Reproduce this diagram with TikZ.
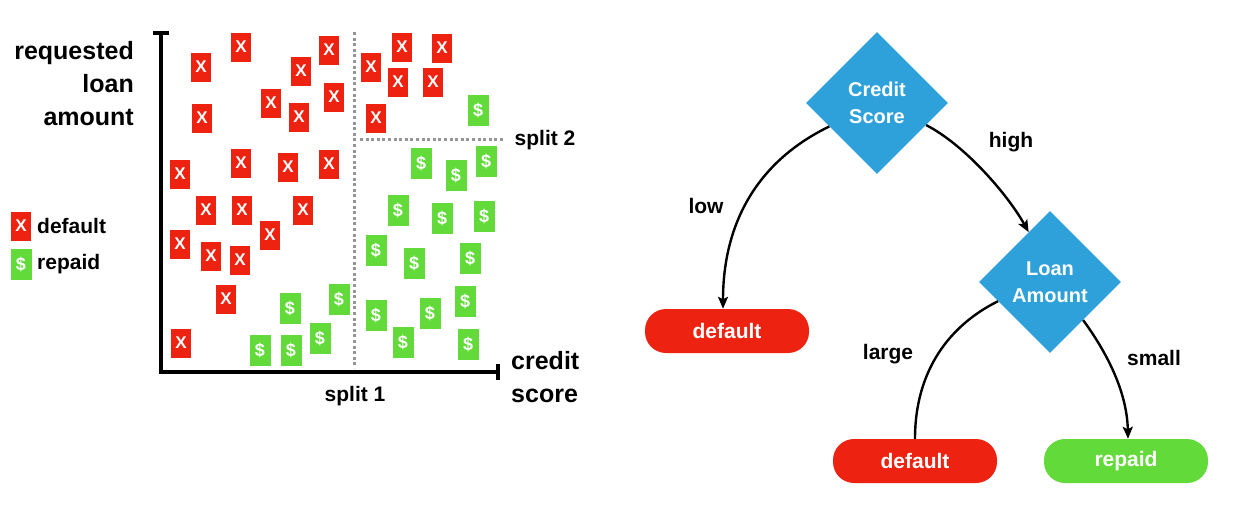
\documentclass[tikz,border=0pt]{standalone}
\usepackage{fontspec}
\setmainfont{Liberation Sans}
\usetikzlibrary{shapes.geometric,arrows.meta,calc}
\definecolor{redc}{RGB}{238,34,16}
\definecolor{greenc}{RGB}{98,218,58}
\definecolor{bluec}{RGB}{46,160,218}
\definecolor{grayc}{RGB}{150,150,150}
\begin{document}
\begin{tikzpicture}[x=1pt,y=-1pt,
  redm/.style={fill=redc, minimum width=20pt, minimum height=29pt, inner sep=0pt, text=white, font=\fontsize{17}{17}\selectfont\bfseries},
  greenm/.style={fill=greenc, minimum width=21pt, minimum height=31pt, inner sep=0pt, text=white, font=\fontsize{18}{18}\selectfont\bfseries},
  axis/.style={line width=4pt, black},
  tick/.style={line width=3.5pt, black},
  dotline/.style={grayc, line width=3pt, dash pattern=on 3pt off 2.6pt},
  axlab/.style={font=\fontsize{25}{33}\selectfont\bfseries, inner sep=0pt},
  lab/.style={font=\fontsize{21}{26}\selectfont\bfseries, inner sep=0pt},
  dec/.style={shape=diamond, fill=bluec, minimum width=142pt, minimum height=142pt, inner sep=0pt, text=white, align=center, font=\fontsize{20}{27}\selectfont\bfseries},
  leafr/.style={fill=redc, rounded corners=21pt, minimum width=164pt, minimum height=44pt, inner sep=0pt, text=white, font=\fontsize{21}{26}\selectfont\bfseries},
  leafg/.style={leafr, fill=greenc},
  edge/.style={line width=2.4pt, black},
  tip/.style={-{Stealth[length=12pt,width=10pt,inset=2.5pt]}}
]
\useasboundingbox (0,0) rectangle (1250,509);

% axes
\coordinate (ytop) at (161,33);
\coordinate (orig) at (161,372);
\coordinate (xend) at (498,372);
\draw[axis] (ytop) -- (orig) -- (xend);
\draw[tick] ([xshift=-8pt]ytop) -- ([xshift=8pt]ytop);
\draw[tick] ([yshift=8pt]xend) -- ([yshift=-8pt]xend);

% splits
\coordinate (s1t) at (354,32);
\coordinate (s1b) at (354,368);
\coordinate (s2l) at (360,139);
\coordinate (s2r) at (503,139);
\draw[dotline] (s1t) -- (s1b);
\draw[dotline] (s2l) -- (s2r);

% markers
\foreach \x/\y [count=\i] in {201/67,241/47,329/50,301/71,334/97,271/103,299/117,202/118,180/174,241/163,288/167,329/164,206/210,242/210,303/210,270/235,180/244,211/256,240/260,226/299,181/343,371/67,402/47,442/48,398/82,433/82,376/118}
  \node[redm] (r\i) at (\x,\y) {X};
\foreach \x/\y [count=\i] in {290/308,339/299,260/350,291/350,320/338,478/110,421/163,456/175,486/161,398/210,442/218,484/216,376/250,414/263,470/258,376/315,430/313,465/301,403/342,468/344}
  \node[greenm] (g\i) at (\x,\y) {\$};

% labels
\node[axlab, anchor=east, align=right] (ylab) at (134,84) {requested\\loan\\amount};
\node[axlab, anchor=west, align=left] (xlab) at (511,377) {credit\\score};
\node[lab] (s1) at (355,396) {split 1};
\node[lab] (s2) at (545,140) {split 2};

% legend
\node[redm] (lr) at (21,226) {X};
\node[greenm] (lg) at (21,264) {\$};
\node[lab, anchor=west] (lgd) at (37,226) {default};
\node[lab, anchor=west] (lgr) at (37,264) {repaid};

% tree
\node[dec] (cs) at (877,103) {Credit\\Score};
\node[dec] (la) at (1050,282) {Loan\\Amount};
\node[leafr] (d1) at (727,331) {default};
\node[leafr] (d2) at (915,461) {default};
\node[leafg] (rp) at (1126,461) {repaid};

\draw[edge,tip] ($(cs.west)!0.33!(cs.south)$) .. controls (760,160) and (723,220) .. ([xshift=-4pt]d1.north);
\draw[edge,tip] ($(cs.east)!0.31!(cs.south)$) .. controls (965,145) and (1008,195) .. ($(la.west)!0.7!(la.north)$);
\draw[edge] ($(la.west)!0.27!(la.south)$) .. controls (950,325) and (915,370) .. (d2.north);
\draw[edge,tip] ($(la.east)!0.535!(la.south)$) .. controls (1105,350) and (1127,390) .. ([xshift=2pt]rp.north);

\node[lab] (llow) at (706,206) {low};
\node[lab] (lhigh) at (1011,142) {high};
\node[lab] (llarge) at (888,354) {large};
\node[lab] (lsmall) at (1154,358) {small};
\end{tikzpicture}
\end{document}
